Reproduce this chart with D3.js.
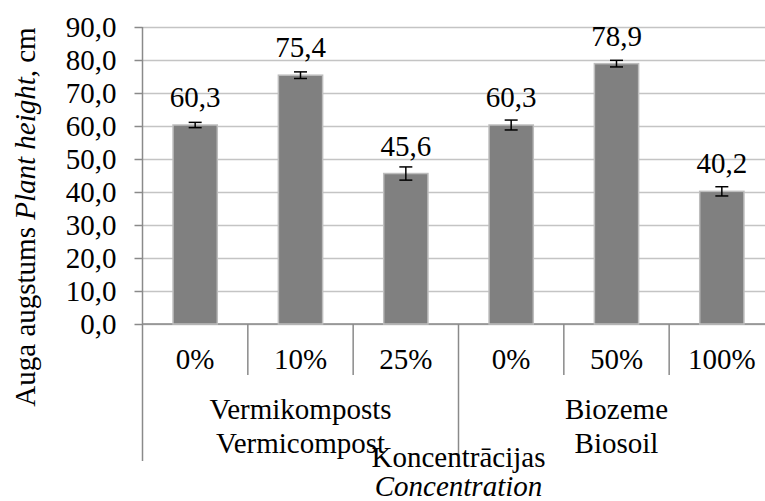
<!DOCTYPE html>
<html>
<head>
<meta charset="utf-8">
<script src="https://cdn.jsdelivr.net/npm/d3@7"></script>
<style>
  body { margin: 0; background: #fff; }
  svg text { font-family: "Liberation Serif", "Times New Roman", Times, "DejaVu Serif", serif; fill: #000; }
</style>
</head>
<body>
<div id="chart"></div>
<script>
// chart data
var groupNames = ["Vermikomposts", "Biozeme"];
var groupNamesEn = ["Vermicompost", "Biosoil"];
var concentrations = ["0%", "10%", "25%", "0%", "50%", "100%"];
var groupOf = [0, 0, 0, 1, 1, 1];
var heights = [60.3, 75.4, 45.6, 60.3, 78.9, 40.2];
var errors = [0.8, 1.0, 2.0, 1.5, 1.0, 1.4];
var yTicks = [0, 10, 20, 30, 40, 50, 60, 70, 80, 90];

var svgWidth = 765;
var svgHeight = 501;
var serif = "'Liberation Serif', 'Times New Roman', Times, 'DejaVu Serif', serif";

// plot area (right edge runs past the picture, as in the original)
var plotLeft = 142.5, plotRight = 774.5, plotTop = 27, plotBottom = 324;

var svg = d3.select("#chart")
    .append("svg")
    .attr("width", svgWidth)
    .attr("height", svgHeight)
    .attr("font-family", serif);

var idx = d3.range(heights.length);

var x = d3.scaleBand()
    .domain(idx)
    .range([plotLeft, plotRight])
    .padding(0);

var xGroup = d3.scaleBand()
    .domain(d3.range(groupNames.length))
    .range([plotLeft, plotRight])
    .padding(0);

var y = d3.scaleLinear()
    .domain([0, 90])
    .range([plotBottom, plotTop]);

var fmt = d => d.toFixed(1).replace(".", ",");

// gridlines
svg.append("g")
    .attr("transform", `translate(${plotLeft},0)`)
    .call(d3.axisLeft(y).tickValues(yTicks).tickSize(-(plotRight - plotLeft)).tickFormat(""))
    .call(g => g.select(".domain").remove())
    .call(g => g.selectAll("line").attr("stroke", "#c4c4c4").attr("stroke-width", 1.5));

// y axis
var yAxis = svg.append("g")
    .attr("transform", `translate(${plotLeft},0)`)
    .call(d3.axisLeft(y).tickValues(yTicks).tickSize(8).tickPadding(18).tickFormat(fmt))
    .attr("font-family", serif)
    .attr("font-size", 29);
yAxis.select(".domain").remove();
yAxis.selectAll("line").attr("stroke", "#8a8a8a").attr("stroke-width", 1.5);
yAxis.selectAll("text").attr("fill", "#000");

// left axis line, continued down through the category labels
svg.append("line")
    .attr("x1", plotLeft).attr("x2", plotLeft)
    .attr("y1", plotTop).attr("y2", 461)
    .attr("stroke", "#8a8a8a").attr("stroke-width", 1.5);

// bottom axis line
svg.append("line")
    .attr("x1", plotLeft).attr("x2", plotRight)
    .attr("y1", plotBottom).attr("y2", plotBottom)
    .attr("stroke", "#8a8a8a").attr("stroke-width", 1.5);

// separators between categories
svg.selectAll(".sep")
    .data(idx.slice(1))
    .enter()
    .append("line")
    .attr("class", "sep")
    .attr("x1", d => x(d)).attr("x2", d => x(d))
    .attr("y1", plotBottom)
    .attr("y2", d => groupOf[d] !== groupOf[d - 1] ? 461 : 375)
    .attr("stroke", "#8a8a8a").attr("stroke-width", 1.5);

// bars
var barW = x.bandwidth() * 0.42;
svg.selectAll(".bar")
    .data(idx)
    .enter()
    .append("rect")
    .attr("class", "bar")
    .attr("x", d => x(d) + (x.bandwidth() - barW) / 2)
    .attr("y", d => y(heights[d]))
    .attr("width", barW)
    .attr("height", d => y(0) - y(heights[d]))
    .attr("fill", "#808080")
    .attr("stroke", "#bdbdbd")
    .attr("stroke-width", 1.5);

// error bars
var cx = d => x(d) + x.bandwidth() / 2;
var err = svg.selectAll(".err")
    .data(idx)
    .enter()
    .append("g")
    .attr("class", "err")
    .attr("stroke", "#000")
    .attr("stroke-width", 1.5);
err.append("line")
    .attr("x1", cx).attr("x2", cx)
    .attr("y1", d => y(heights[d] - errors[d]))
    .attr("y2", d => y(heights[d] + errors[d]));
err.append("line")
    .attr("x1", d => cx(d) - 6.5).attr("x2", d => cx(d) + 6.5)
    .attr("y1", d => y(heights[d] + errors[d]))
    .attr("y2", d => y(heights[d] + errors[d]));
err.append("line")
    .attr("x1", d => cx(d) - 6.5).attr("x2", d => cx(d) + 6.5)
    .attr("y1", d => y(heights[d] - errors[d]))
    .attr("y2", d => y(heights[d] - errors[d]));

// value labels
svg.selectAll(".val")
    .data(idx)
    .enter()
    .append("text")
    .attr("class", "val")
    .attr("x", cx)
    .attr("y", d => y(heights[d]) - 18)
    .attr("text-anchor", "middle")
    .attr("font-size", "29px")
    .text(d => fmt(heights[d]));

// category labels
svg.selectAll(".cat")
    .data(idx)
    .enter()
    .append("text")
    .attr("class", "cat")
    .attr("x", cx)
    .attr("y", 369)
    .attr("text-anchor", "middle")
    .attr("font-size", "29px")
    .text(d => concentrations[d]);

// group labels
var grp = svg.selectAll(".grp")
    .data(d3.range(groupNames.length))
    .enter()
    .append("text")
    .attr("class", "grp")
    .attr("text-anchor", "middle")
    .attr("font-size", "29px");
grp.append("tspan")
    .attr("x", d => xGroup(d) + xGroup.bandwidth() / 2)
    .attr("y", 419)
    .text(d => groupNames[d]);
grp.append("tspan")
    .attr("x", d => xGroup(d) + xGroup.bandwidth() / 2)
    .attr("y", 453)
    .text(d => groupNamesEn[d]);

// x axis title
var midX = (plotLeft + plotRight) / 2;
svg.append("text")
    .attr("x", midX).attr("y", 467)
    .attr("text-anchor", "middle")
    .attr("font-size", "29px")
    .text("Koncentrācijas");
svg.append("text")
    .attr("x", midX).attr("y", 496)
    .attr("text-anchor", "middle")
    .attr("font-size", "29px")
    .attr("font-style", "italic")
    .text("Concentration");

// y axis title
var yTitle = svg.append("text")
    .attr("transform", "translate(35,217) rotate(-90)")
    .attr("text-anchor", "middle")
    .attr("font-size", "29px");
yTitle.append("tspan").text("Auga augstums ");
yTitle.append("tspan").attr("font-style", "italic").text("Plant height");
yTitle.append("tspan").text(", cm");
</script>
</body>
</html>
